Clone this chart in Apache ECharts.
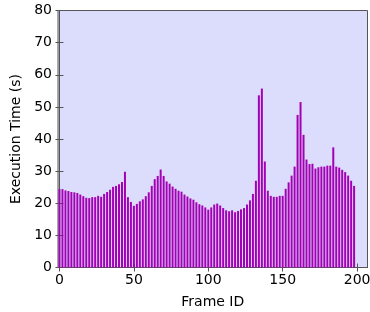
<!DOCTYPE html>
<html>
<head>
<meta charset="utf-8">
<script src="https://cdn.jsdelivr.net/npm/echarts@6/dist/echarts.min.js"></script>
<style>
  html, body { margin: 0; padding: 0; background: #fff; }
  #chart { width: 370px; height: 312px; }
</style>
</head>
<body>
<div id="chart"></div>
<script>
// frame ids (every second frame) and execution time in seconds
var frameIds = [];
for (var f = 0; f <= 198; f += 2) frameIds.push(f);

var execTimes = [
    24.4, 24.4, 24.0, 23.8, 23.5, 23.4, 23.2, 22.7, 22.2, 21.7,
    21.6, 21.9, 21.9, 22.3, 22.0, 22.9, 23.5, 24.2, 25.1, 25.4,
    25.9, 26.6, 29.8, 21.9, 20.4, 19.2, 19.8, 20.6, 21.2, 22.2,
    23.4, 25.4, 27.5, 28.5, 30.5, 28.5, 26.8, 26.1, 25.2, 24.5,
    23.9, 23.6, 22.7, 22.1, 21.5, 21.1, 20.3, 19.7, 19.3, 18.7,
    18.0, 18.7, 19.6, 19.9, 19.3, 18.5, 17.8, 17.5, 17.8, 17.2,
    17.6, 18.1, 18.5, 19.6, 20.9, 22.9, 27.0, 53.6, 55.7, 33.0,
    23.9, 22.3, 22.0, 22.0, 22.3, 22.3, 24.5, 26.5, 28.6, 31.4,
    47.5, 51.5, 41.3, 33.6, 32.2, 32.3, 30.8, 31.2, 31.4, 31.4,
    31.7, 31.7, 37.4, 31.4, 31.1, 30.4, 29.7, 28.6, 27.0, 25.4
];

var xTicks = [0, 50, 100, 150, 200];

var data = frameIds.map(function (id, i) { return [id, execTimes[i]]; });

var myChart = echarts.init(document.getElementById('chart'));
var frameColor = '#555';
var font = 'DejaVu Sans';
var option = {
    animation: false,
    grid: {
        left: 58,
        right: 2.5,
        top: 10.5,
        bottom: 44.5,
        containLabel: false,
        outerBoundsMode: 'none',
        show: true,
        backgroundColor: '#dcdcfc',
        borderColor: frameColor,
        borderWidth: 1
    },
    xAxis: [
        {
            type: 'value',
            min: -1,
            max: 207,
            name: 'Frame ID',
            nameLocation: 'middle',
            nameGap: 28,
            nameTextStyle: { color: '#000', fontSize: 14, fontFamily: font },
            axisLine: { show: true, lineStyle: { color: frameColor, width: 1 } },
            axisTick: { show: true, inside: true, length: 4, customValues: xTicks, lineStyle: { color: frameColor } },
            axisLabel: { customValues: xTicks, color: '#000', fontSize: 14, fontFamily: font, margin: 6 },
            splitLine: { show: false }
        },
        {
            type: 'value',
            position: 'top',
            min: -1,
            max: 207,
            axisLine: { show: true, lineStyle: { color: frameColor } },
            axisTick: { show: true, inside: true, length: 4, customValues: xTicks, lineStyle: { color: frameColor } },
            axisLabel: { show: false },
            splitLine: { show: false }
        }
    ],
    yAxis: [
        {
            type: 'value',
            min: 0,
            max: 80,
            interval: 10,
            name: 'Execution Time (s)',
            nameLocation: 'middle',
            nameGap: 34,
            nameTextStyle: { color: '#000', fontSize: 14, fontFamily: font },
            axisLine: { show: true, lineStyle: { color: frameColor, width: 1 } },
            axisTick: { show: true, inside: true, length: 4, lineStyle: { color: frameColor } },
            axisLabel: { color: '#000', fontSize: 14, fontFamily: font, margin: 6 },
            splitLine: { show: false }
        },
        {
            type: 'value',
            position: 'right',
            min: 0,
            max: 80,
            interval: 10,
            axisLine: { show: true, lineStyle: { color: frameColor } },
            axisTick: { show: true, inside: true, length: 4, lineStyle: { color: frameColor } },
            axisLabel: { show: false },
            splitLine: { show: false }
        }
    ],
    series: [
        {
            type: 'bar',
            data: data,
            barWidth: 2,
            itemStyle: { color: '#a400b4' }
        }
    ]
};
myChart.setOption(option);
</script>
</body>
</html>
